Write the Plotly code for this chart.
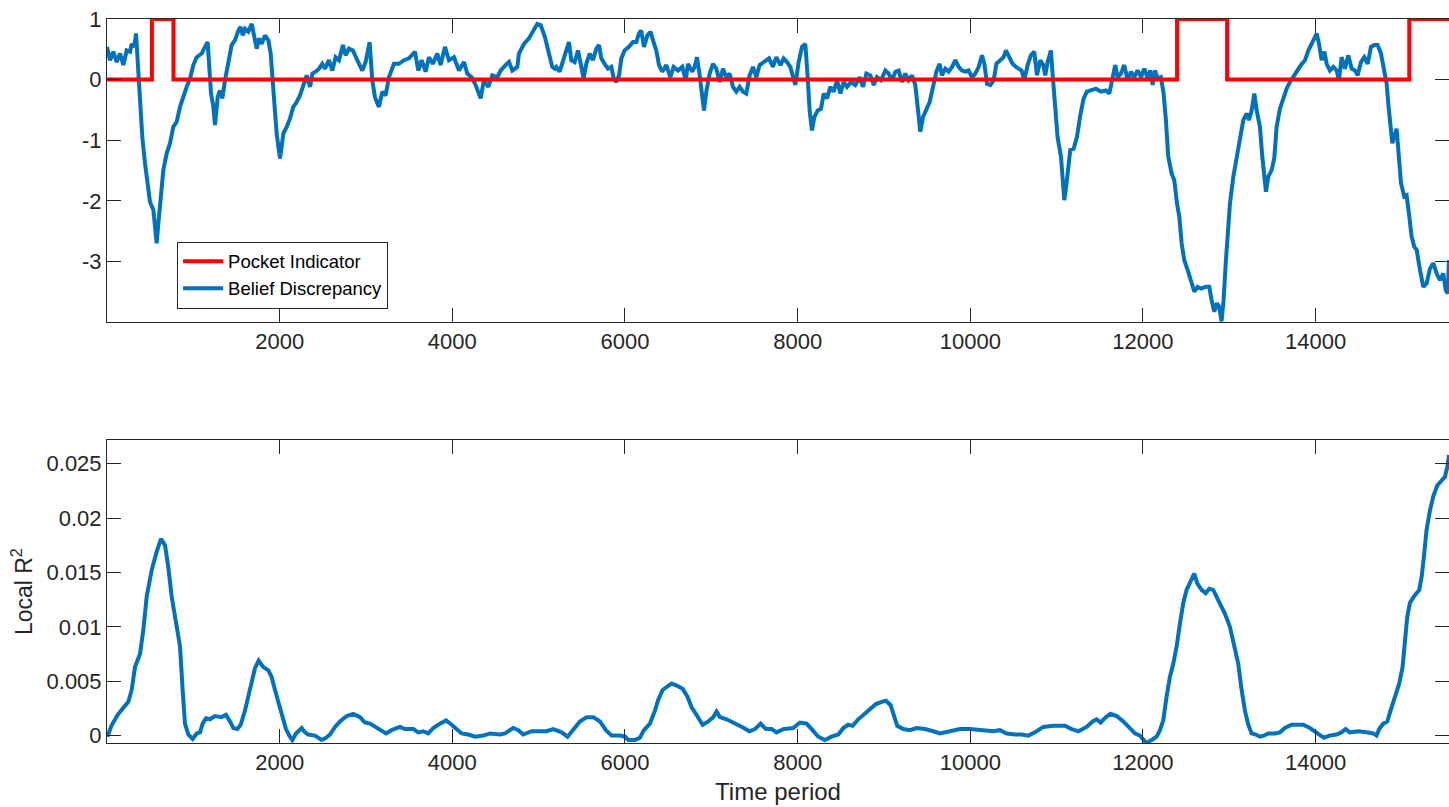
import plotly.graph_objects as go

# ---- Belief discrepancy (top panel) ----
belief_t = [0, 35, 73, 112, 151, 189, 228, 267, 286, 317, 336, 363, 382, 409, 440, 471, 498, 537, 556, 575,
            595, 622, 653, 691, 730, 768, 807, 846, 884, 923, 962, 1000, 1039, 1097, 1135, 1166, 1205, 1232, 1251, 1282,
            1309, 1336, 1367, 1406, 1444, 1483, 1521, 1548, 1572, 1599, 1637, 1676, 1703, 1734, 1761, 1792, 1830, 1869, 1896, 1927,
            1965, 2004, 2043, 2081, 2120, 2158, 2197, 2236, 2274, 2313, 2352, 2379, 2417, 2456, 2494, 2525, 2571, 2610, 2648, 2687,
            2733, 2764, 2803, 2849, 2899, 2957, 2996, 3042, 3073, 3104, 3150, 3189, 3227, 3266, 3324, 3382, 3440, 3498, 3567, 3606,
            3645, 3691, 3729, 3776, 3826, 3864, 3915, 3961, 4019, 4077, 4135, 4173, 4224, 4270, 4328, 4366, 4417, 4463, 4521, 4560,
            4617, 4656, 4695, 4753, 4772, 4830, 4888, 4934, 4984, 5023, 5073, 5119, 5158, 5189, 5205, 5243, 5282, 5320, 5351, 5378,
            5417, 5456, 5494, 5521, 5552, 5591, 5629, 5668, 5699, 5726, 5764, 5803, 5842, 5869, 5900, 5931, 5958, 5996, 6046, 6093,
            6131, 6162, 6189, 6220, 6259, 6297, 6324, 6363, 6394, 6432, 6479, 6525, 6564, 6614, 6664, 6703, 6730, 6780, 6807, 6834,
            6865, 6896, 6915, 6942, 6981, 7019, 7058, 7097, 7135, 7174, 7212, 7251, 7289, 7328, 7367, 7405, 7444, 7483, 7521, 7560,
            7618, 7668, 7714, 7753, 7800, 7838, 7877, 7915, 7973, 8012, 8051, 8089, 8116, 8139, 8166, 8193, 8232, 8271, 8302, 8340,
            8379, 8417, 8456, 8495, 8533, 8572, 8618, 8668, 8719, 8757, 8796, 8842, 8881, 8919, 8966, 9016, 9054, 9093, 9132, 9170,
            9209, 9247, 9286, 9325, 9363, 9390, 9421, 9452, 9491, 9529, 9568, 9607, 9645, 9672, 9711, 9749, 9788, 9827, 9865, 9904,
            9943, 9981, 10020, 10058, 10097, 10136, 10163, 10193, 10232, 10271, 10302, 10340, 10386, 10413, 10452, 10490, 10529, 10567, 10594, 10625,
            10664, 10702, 10741, 10772, 10811, 10845, 10868, 10896, 10934, 10953, 10980, 11011, 11050, 11089, 11119, 11158, 11197, 11235, 11274, 11313,
            11351, 11397, 11455, 11513, 11571, 11610, 11648, 11679, 11706, 11745, 11784, 11822, 11861, 11899, 11938, 11977, 12015, 12054, 12085, 12112,
            12139, 12170, 12208, 12239, 12266, 12293, 12332, 12363, 12394, 12421, 12448, 12479, 12517, 12556, 12595, 12633, 12672, 12730, 12768, 12795,
            12826, 12857, 12884, 12910, 12934, 12961, 12989, 13008, 13047, 13085, 13124, 13162, 13201, 13228, 13259, 13290, 13317, 13355, 13382, 13406,
            13425, 13452, 13491, 13521, 13548, 13587, 13626, 13664, 13703, 13741, 13780, 13830, 13877, 13915, 13954, 13985, 14012, 14039, 14070, 14101,
            14128, 14166, 14205, 14244, 14270, 14301, 14340, 14379, 14417, 14456, 14487, 14525, 14564, 14603, 14641, 14680, 14718, 14757, 14796, 14823,
            14842, 14861, 14888, 14911, 14938, 14958, 14989, 15027, 15054, 15081, 15112, 15143, 15170, 15209, 15247, 15286, 15324, 15363, 15402, 15440,
            15479, 15506, 15529, 15545]
belief_v = [0.54, 0.32, 0.46, 0.29, 0.43, 0.24, 0.48, 0.46, 0.59, 0.54, 0.76, 0.04, -0.45, -0.95, -1.38, -1.71, -2.02, -2.15, -2.43, -2.70,
            -2.37, -1.88, -1.49, -1.22, -1.05, -0.78, -0.70, -0.45, -0.26, -0.12, 0.02, 0.24, 0.37, 0.43, 0.54, 0.62, -0.23, -0.45, -0.75, -0.29,
            -0.18, -0.31, -0.01, 0.32, 0.57, 0.65, 0.81, 0.87, 0.73, 0.84, 0.79, 0.92, 0.73, 0.51, 0.68, 0.59, 0.73, 0.65, 0.43, -0.23,
            -0.89, -1.30, -0.89, -0.78, -0.64, -0.45, -0.37, -0.26, -0.07, 0.07, -0.12, 0.10, 0.13, 0.18, 0.26, 0.18, 0.32, 0.15, 0.37, 0.32,
            0.57, 0.40, 0.51, 0.48, 0.32, 0.15, 0.29, 0.62, -0.01, -0.29, -0.45, -0.20, -0.26, 0.04, 0.26, 0.26, 0.32, 0.35, 0.46, 0.15,
            0.32, 0.13, 0.37, 0.26, 0.43, 0.24, 0.54, 0.32, 0.37, 0.15, 0.29, 0.10, 0.04, -0.09, -0.31, -0.01, -0.12, 0.07, 0.04, 0.15,
            0.24, 0.29, 0.15, 0.21, 0.43, 0.59, 0.68, 0.81, 0.92, 0.90, 0.70, 0.43, 0.21, 0.18, 0.21, 0.13, 0.32, 0.46, 0.62, 0.32,
            0.29, 0.48, 0.18, 0.02, 0.26, 0.43, 0.32, 0.51, 0.57, 0.35, 0.26, 0.18, 0.21, 0.02, -0.04, 0.07, 0.35, 0.48, 0.54, 0.62,
            0.62, 0.76, 0.81, 0.54, 0.73, 0.79, 0.65, 0.48, 0.24, 0.13, 0.24, 0.04, 0.21, 0.15, 0.21, -0.01, 0.26, 0.13, 0.21, 0.37,
            0.07, -0.23, -0.51, -0.20, 0.10, 0.26, 0.18, -0.04, 0.18, 0.04, 0.10, -0.12, -0.20, -0.12, -0.20, -0.23, 0.07, 0.21, 0.04, 0.24,
            0.29, 0.35, 0.21, 0.37, 0.24, 0.35, 0.29, 0.21, -0.09, 0.29, 0.54, 0.59, 0.04, -0.51, -0.84, -0.62, -0.51, -0.48, -0.23, -0.31,
            -0.12, -0.20, -0.01, -0.23, -0.04, -0.12, -0.04, -0.09, 0.04, -0.12, 0.10, 0.07, -0.09, 0.04, -0.01, 0.15, 0.10, -0.01, 0.13, 0.15,
            -0.04, 0.10, -0.01, 0.07, -0.09, -0.51, -0.86, -0.62, -0.51, -0.37, -0.12, 0.13, 0.26, 0.07, 0.18, 0.13, 0.21, 0.32, 0.21, 0.15,
            0.13, 0.15, 0.04, 0.10, 0.21, 0.40, 0.26, -0.07, -0.09, -0.01, 0.26, 0.32, 0.37, 0.48, 0.37, 0.26, 0.21, 0.18, 0.15, -0.01,
            0.24, 0.40, 0.46, 0.07, 0.32, 0.24, 0.07, 0.29, 0.48, 0.10, -0.45, -0.95, -1.27, -1.99, -1.66, -1.16, -1.14, -0.95, -0.59, -0.31,
            -0.20, -0.18, -0.15, -0.20, -0.18, -0.23, 0.04, 0.24, 0.04, 0.10, 0.24, -0.01, 0.13, 0.04, 0.15, 0.04, 0.18, 0.02, 0.15, -0.09,
            0.15, 0.02, 0.04, -0.23, -0.67, -1.27, -1.55, -1.66, -2.04, -2.26, -2.70, -2.98, -3.14, -3.31, -3.50, -3.42, -3.45, -3.42, -3.42, -3.64,
            -3.83, -3.69, -3.75, -3.99, -3.64, -2.98, -2.37, -2.04, -1.60, -1.27, -0.95, -0.67, -0.56, -0.67, -0.51, -0.23, -0.51, -0.78, -1.27, -1.60,
            -1.85, -1.60, -1.49, -1.30, -0.78, -0.48, -0.31, -0.15, -0.04, 0.04, 0.15, 0.24, 0.32, 0.48, 0.59, 0.68, 0.76, 0.59, 0.32, 0.46,
            0.26, 0.15, 0.21, 0.15, -0.01, 0.37, 0.18, 0.40, 0.18, 0.15, 0.07, 0.29, 0.37, 0.26, 0.54, 0.57, 0.57, 0.43, 0.15, -0.07,
            -0.40, -0.73, -1.05, -0.95, -0.81, -1.16, -1.71, -1.93, -1.91, -2.21, -2.59, -2.76, -2.81, -3.14, -3.42, -3.36, -3.12, -3.03, -3.20, -3.31,
            -3.20, -3.47, -3.53, -2.98]

# ---- Pocket indicator (step series, value holds until next change) ----
pocket_t = [0, 520, 770, 12395, 12975, 15085, 15545]
pocket_v = [0, 1, 0, 1, 0, 1, 1]

# ---- Local R^2 (bottom panel) ----
r2_t = [4, 54, 131, 189, 247, 286, 324, 382, 421, 460, 517, 575, 625, 672, 710, 749, 807, 846, 876, 903,
        942, 992, 1039, 1077, 1108, 1147, 1193, 1251, 1328, 1378, 1425, 1463, 1510, 1548, 1598, 1637, 1676, 1714, 1757, 1811,
        1869, 1907, 1946, 1996, 2035, 2073, 2112, 2147, 2189, 2255, 2293, 2332, 2409, 2486, 2537, 2583, 2641, 2699, 2776, 2853,
        2931, 2988, 3046, 3104, 3162, 3232, 3297, 3394, 3452, 3548, 3606, 3664, 3722, 3780, 3857, 3927, 3992, 4050, 4108, 4185,
        4263, 4359, 4436, 4552, 4610, 4706, 4764, 4822, 4918, 4996, 5092, 5169, 5266, 5335, 5401, 5478, 5556, 5633, 5710, 5779,
        5845, 5942, 6000, 6038, 6115, 6173, 6220, 6289, 6347, 6386, 6436, 6482, 6540, 6598, 6668, 6722, 6772, 6830, 6899, 6965,
        7023, 7061, 7100, 7177, 7254, 7324, 7378, 7440, 7505, 7571, 7633, 7698, 7756, 7833, 7949, 8027, 8104, 8173, 8239, 8316,
        8393, 8471, 8529, 8586, 8637, 8702, 8791, 8857, 8907, 8973, 9023, 9077, 9116, 9154, 9223, 9301, 9378, 9474, 9571, 9648,
        9764, 9880, 9996, 10112, 10170, 10266, 10343, 10421, 10517, 10594, 10672, 10749, 10845, 10961, 11096, 11173, 11251, 11347, 11417, 11463,
        11509, 11571, 11625, 11695, 11772, 11849, 11907, 11965, 12004, 12042, 12100, 12158, 12197, 12235, 12274, 12312, 12351, 12390, 12428, 12467,
        12505, 12552, 12594, 12629, 12679, 12726, 12768, 12814, 12853, 12899, 12950, 13007, 13054, 13104, 13143, 13181, 13220, 13258, 13308, 13355,
        13401, 13451, 13529, 13587, 13644, 13722, 13799, 13857, 13934, 13992, 14050, 14096, 14158, 14243, 14301, 14347, 14397, 14494, 14590, 14668,
        14706, 14737, 14783, 14830, 14868, 14919, 14969, 15007, 15034, 15061, 15092, 15139, 15200, 15228, 15254, 15285, 15324, 15363, 15409, 15459,
        15498, 15525, 15545]
r2_v = [-0.0001, 0.00095, 0.0020, 0.0026, 0.0031, 0.0042, 0.0063, 0.0075, 0.0097, 0.0128, 0.0152, 0.0169, 0.0181, 0.0175, 0.0155, 0.0128, 0.0103, 0.0082, 0.0042, 0.0011,
        0.0001, -0.0003, 0.0002, 0.0003, 0.0011, 0.0016, 0.0015, 0.0018, 0.0017, 0.0019, 0.0013, 0.0007, 0.0006, 0.0010, 0.0023, 0.0036, 0.0051, 0.0062, 0.0069, 0.0063,
        0.0060, 0.0054, 0.0042, 0.0029, 0.0017, 0.0006, 0.0000, -0.0004, 0.0002, 0.0007, 0.0003, 0.0001, 0.0000, -0.0004, -0.0002, 0.0001, 0.0008, 0.0013, 0.0018, 0.0020,
        0.0017, 0.0012, 0.0011, 0.0008, 0.0006, 0.0002, 0.0005, 0.0008, 0.0006, 0.0006, 0.0003, 0.0004, 0.0002, 0.0007, 0.0011, 0.0014, 0.0010, 0.0006, 0.0002, 0.0001,
        -0.0001, 0.0000, 0.0002, 0.0001, 0.0002, 0.0007, 0.0005, 0.0001, 0.0004, 0.0004, 0.0004, 0.0006, 0.0003, -0.0001, 0.0006, 0.0013, 0.0017, 0.0017, 0.0013, 0.0005,
        0.0000, 0.0000, -0.0001, -0.0004, -0.0004, -0.0002, 0.0005, 0.0011, 0.0023, 0.0033, 0.0042, 0.0045, 0.0048, 0.0046, 0.0043, 0.0036, 0.0026, 0.0019, 0.0010, 0.0013,
        0.0017, 0.0022, 0.0017, 0.0015, 0.0012, 0.0010, 0.0007, 0.0004, 0.0006, 0.0011, 0.0006, 0.0006, 0.0003, 0.0006, 0.0007, 0.0012, 0.0011, 0.0005, -0.0001, -0.0004,
        -0.0001, 0.0001, 0.0007, 0.0010, 0.0009, 0.0015, 0.0021, 0.0025, 0.0029, 0.0031, 0.0032, 0.0028, 0.0017, 0.0009, 0.0006, 0.0005, 0.0007, 0.0006, 0.0004, 0.0002,
        0.0004, 0.0006, 0.0006, 0.0005, 0.0004, 0.0004, 0.0005, 0.0002, 0.0001, 0.0001, 0.0000, 0.0003, 0.0008, 0.0009, 0.0009, 0.0006, 0.0004, 0.0008, 0.0013, 0.0015,
        0.0012, 0.0017, 0.0020, 0.0018, 0.0013, 0.0006, 0.0002, 0.0000, -0.0004, -0.0007, -0.0004, -0.0001, 0.0005, 0.0014, 0.0036, 0.0054, 0.0066, 0.0082, 0.0103, 0.0122,
        0.0134, 0.0143, 0.0149, 0.0140, 0.0134, 0.0131, 0.0135, 0.0134, 0.0128, 0.0120, 0.0112, 0.0100, 0.0085, 0.0066, 0.0042, 0.0023, 0.0010, 0.0002, 0.0001, -0.0001,
        0.0000, 0.0002, 0.0002, 0.0003, 0.0007, 0.0010, 0.0010, 0.0010, 0.0007, 0.0004, 0.0000, -0.0002, 0.0000, 0.0001, 0.0003, 0.0006, 0.0003, 0.0004, 0.0003, 0.0002,
        0.0000, 0.0006, 0.0011, 0.0013, 0.0023, 0.0036, 0.0048, 0.0063, 0.0085, 0.0109, 0.0122, 0.0128, 0.0134, 0.0146, 0.0164, 0.0189, 0.0207, 0.0220, 0.0230, 0.0235,
        0.0238, 0.0247, 0.0258]

x_ticks = [2000, 4000, 6000, 8000, 10000, 12000, 14000]
x_labels = ["2000", "4000", "6000", "8000", "10000", "12000", "14000"]
top_y_ticks = [-3, -2, -1, 0, 1]
top_y_labels = ["-3", "-2", "-1", "0", "1"]
bottom_y_ticks = [0, 0.005, 0.01, 0.015, 0.02, 0.025]
bottom_y_labels = ["0", "0.005", "0.01", "0.015", "0.02", "0.025"]

BLUE = "#0072BD"
RED = "#FF0000"
INK = "#262626"
FONT = "Liberation Sans"

fig = go.Figure()

fig.add_trace(go.Scatter(x=belief_t, y=belief_v, mode="lines", name="Belief Discrepancy",
                         line=dict(color=BLUE, width=4), xaxis="x", yaxis="y", legendrank=2))
fig.add_trace(go.Scatter(x=pocket_t, y=pocket_v, mode="lines", name="Pocket Indicator",
                         line=dict(color=RED, width=4, shape="hv"), xaxis="x", yaxis="y", legendrank=1))
fig.add_trace(go.Scatter(x=r2_t, y=r2_v, mode="lines", showlegend=False,
                         line=dict(color=BLUE, width=4), xaxis="x2", yaxis="y2"))

axis_common = dict(showline=True, linecolor=INK, linewidth=1, mirror="ticks",
                   ticks="inside", ticklen=14, tickcolor=INK, tickwidth=1,
                   showgrid=False, zeroline=False,
                   tickfont=dict(family=FONT, size=22, color=INK))

fig.update_layout(
    width=1449, height=807,
    margin=dict(l=107, r=0, t=19, b=64),
    paper_bgcolor="white", plot_bgcolor="white",
    font=dict(family=FONT, color=INK),
    xaxis=dict(domain=[0, 1], range=[0, 15545], tickmode="array", tickvals=x_ticks,
               ticktext=x_labels, anchor="y", **axis_common),
    yaxis=dict(domain=[0.5815, 1], range=[-4, 1], tickmode="array", tickvals=top_y_ticks,
               ticktext=top_y_labels, anchor="x", **axis_common),
    xaxis2=dict(domain=[0, 1], range=[0, 15545], tickmode="array", tickvals=x_ticks,
                ticktext=x_labels, anchor="y2",
                title=dict(text="Time period", font=dict(family=FONT, size=24, color=INK), standoff=8),
                **axis_common),
    yaxis2=dict(domain=[0, 0.4181], range=[-0.00068, 0.02716], tickmode="array", tickvals=bottom_y_ticks,
                ticktext=bottom_y_labels, anchor="x2",
                title=dict(text="Local R<sup>2</sup>", font=dict(family=FONT, size=23, color=INK), standoff=7),
                **axis_common),
    legend=dict(x=0.0522, y=0.6925, xanchor="left", yanchor="top",
                bgcolor="white", bordercolor=INK, borderwidth=1,
                font=dict(family=FONT, size=18.5, color="black"),
                itemwidth=40, tracegroupgap=0),
    showlegend=True,
)

fig.write_html("out.html")
